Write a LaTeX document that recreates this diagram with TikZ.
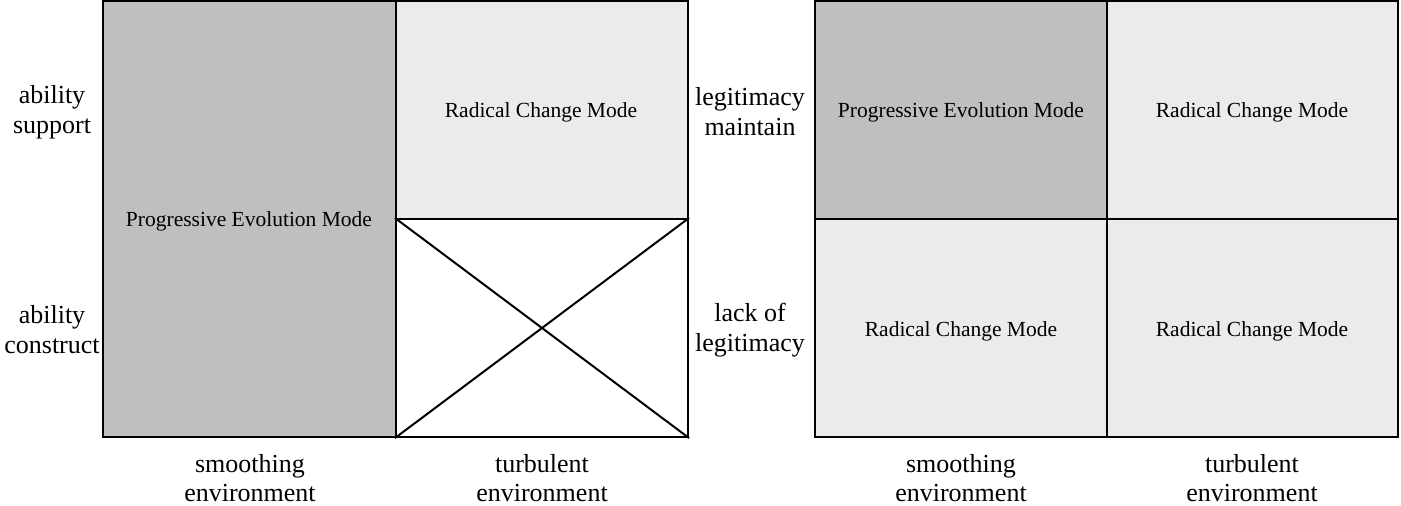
\documentclass[tikz,border=0pt]{standalone}
\usepackage{fontspec}
\setmainfont{Liberation Serif}
\begin{document}
\begin{tikzpicture}[x=1pt,y=-1pt,
  cell/.style={draw=black,line width=2.2pt,inner sep=0pt},
  dark/.style={cell,fill=black!25},
  light/.style={cell,fill=black!8},
  white/.style={cell,fill=white},
  txt/.style={font=\fontsize{21.5}{25}\selectfont,inner sep=0pt},
  lab/.style={align=center,font=\fontsize{26}{30}\selectfont,inner sep=0pt},
  blab/.style={align=center,font=\fontsize{26}{28.5}\selectfont,inner sep=0pt}]
\useasboundingbox (0,0) rectangle (1401,506);
% left panel
\node[dark,minimum width=293pt,minimum height=436pt] (pe) at (249.5,219) {};
\node[light,minimum width=292pt,minimum height=218pt] (rc) at (542,110) {};
\node[white,minimum width=292pt,minimum height=218pt] (x) at (542,328) {};
\draw[line width=2pt] (x.north west) -- (x.south east) (x.north east) -- (x.south west);
% right panel
\node[dark,minimum width=292pt,minimum height=218pt] (r1) at (961,110) {};
\node[light,minimum width=291pt,minimum height=218pt] (r2) at (1252.5,110) {};
\node[light,minimum width=292pt,minimum height=218pt] (r3) at (961,328) {};
\node[light,minimum width=291pt,minimum height=218pt] (r4) at (1252.5,328) {};
% cell texts
\node[txt] (t1) at (249,221) {Progressive Evolution Mode};
\node[txt] (t2) at (541,112) {Radical Change Mode};
\node[txt] (t3) at (961,112) {Progressive Evolution Mode};
\node[txt] (t4) at (1252,112) {Radical Change Mode};
\node[txt] (t5) at (961,331) {Radical Change Mode};
\node[txt] (t6) at (1252,331) {Radical Change Mode};
% labels
\node[lab] (l1) at (52,112) {ability\\support};
\node[lab] (l2) at (52,330) {ability\\construct};
\node[lab] (l3) at (750,112) {legitimacy\\maintain};
\node[lab] (l4) at (750,330) {lack of\\legitimacy};
\node[blab] (b1) at (250,478) {smoothing\\environment};
\node[blab] (b2) at (542,478) {turbulent\\environment};
\node[blab] (b3) at (961,478) {smoothing\\environment};
\node[blab] (b4) at (1252,478) {turbulent\\environment};
\end{tikzpicture}
\end{document}
